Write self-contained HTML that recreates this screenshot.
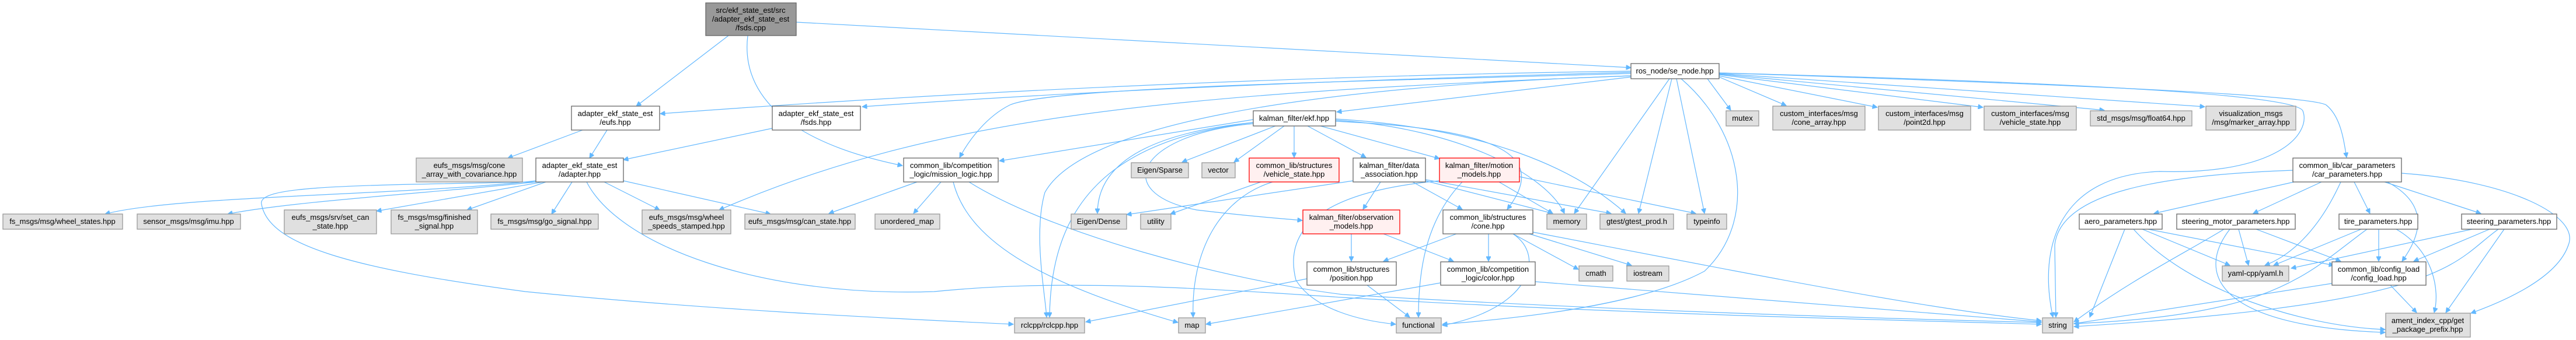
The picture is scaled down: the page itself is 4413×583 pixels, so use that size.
<!DOCTYPE html>
<html><head><meta charset="utf-8"><style>
html,body{margin:0;padding:0;background:#fff;}
svg{display:block;}
text{font-family:"Liberation Sans",Arial,sans-serif;font-size:13px;fill:#000;text-anchor:middle;}
.g{fill:#e0e0e0;stroke:#999;stroke-width:1.3;}
.w{fill:#fff;stroke:#666;stroke-width:1.3;}
.r{fill:#fff0f0;stroke:#f00;stroke-width:1.3;}
.k{fill:#999;stroke:#666;stroke-width:1.3;}
path{fill:none;stroke:#63b8ff;stroke-width:1.2;}
</style></head><body>
<svg width="4413" height="583" viewBox="0 0 4413 583" xmlns="http://www.w3.org/2000/svg">
<defs><marker id="a" viewBox="0 0 10 10" refX="10" refY="5" markerWidth="10" markerHeight="8" markerUnits="userSpaceOnUse" orient="auto"><path d="M0,0 L10,5 L0,10 z" style="fill:#63b8ff;stroke:#63b8ff"/></marker></defs>
<g marker-end="url(#a)">
<path d="M1248,61 L1090,182"/>
<path d="M1281,61 C1270,150 1330,240 1546,284"/>
<path d="M1364,38 L2794,116"/>
<path d="M998,223 L870,271"/>
<path d="M1040,223 L1010,271"/>
<path d="M1323,220 L1068,274"/>
<path d="M918,310 C700,335 300,335 180,367"/>
<path d="M918,312 C750,330 500,345 390,367"/>
<path d="M930,312 L645,362"/>
<path d="M935,312 L800,360"/>
<path d="M980,312 L945,367"/>
<path d="M1035,312 L1130,360"/>
<path d="M1068,310 L1320,367"/>
<path d="M918,312 C600,318 440,318 448,350 C460,420 600,460 900,500 C1200,530 1500,545 1736,556"/>
<path d="M1005,312 C1060,420 1300,510 1600,500 C1800,480 2000,490 2300,510 C2800,540 3300,550 3497,556"/>
<path d="M2794,122 C2200,130 1600,160 1131,195"/>
<path d="M2794,124 C2200,140 1800,160 1477,183"/>
<path d="M2794,126 C2300,140 1800,150 1730,180 C1690,200 1660,240 1644,270"/>
<path d="M2794,130 C2000,160 1600,200 1232,360"/>
<path d="M2794,132 L2290,192"/>
<path d="M2794,130 C2200,150 1850,220 1790,330 C1770,400 1790,500 1793,544"/>
<path d="M2860,135 L2697,366"/>
<path d="M2864,135 L2807,366"/>
<path d="M2872,135 L2920,366"/>
<path d="M2880,135 C2990,230 3010,380 2920,465 C2800,530 2550,550 2471,556"/>
<path d="M2925,135 L2965,189"/>
<path d="M2945,132 L3060,181"/>
<path d="M2945,130 L3216,184"/>
<path d="M2945,128 L3397,184"/>
<path d="M2945,127 L3605,189"/>
<path d="M2945,126 L3777,183"/>
<path d="M2945,125 C3400,140 3950,160 3985,180 C4010,200 4015,240 4020,270"/>
<path d="M2945,125 C3500,140 3930,160 3945,190 C3960,230 3900,300 3700,294 C3530,300 3490,420 3517,544"/>
<path d="M3928,292 C3700,300 3530,330 3520,420 L3522,544"/>
<path d="M3930,312 L3690,366"/>
<path d="M3977,312 L3860,366"/>
<path d="M4033,312 L4060,366"/>
<path d="M4085,312 L4250,366"/>
<path d="M4010,312 C3970,400 3920,440 3880,455"/>
<path d="M4090,312 C4160,350 4150,400 4115,448"/>
<path d="M4114,297 C4300,310 4420,370 4400,420 C4380,480 4280,520 4233,537"/>
<path d="M3640,393 L3580,544"/>
<path d="M3670,393 L3820,455"/>
<path d="M3680,393 L3998,455"/>
<path d="M3655,393 C3750,500 3950,560 4086,565"/>
<path d="M3810,393 C3750,430 3650,480 3553,552"/>
<path d="M3835,393 L3852,455"/>
<path d="M3865,393 L4010,448"/>
<path d="M3820,393 C3760,470 3800,560 4086,570"/>
<path d="M4045,393 L3895,455"/>
<path d="M4075,393 L4075,448"/>
<path d="M4105,393 C4170,430 4180,500 4170,536"/>
<path d="M4055,393 C3950,470 3900,540 3553,555"/>
<path d="M4235,393 L3925,460"/>
<path d="M4265,393 L4135,448"/>
<path d="M4290,393 L4190,536"/>
<path d="M4280,393 C4200,450 4200,520 3553,560"/>
<path d="M4095,489 L4140,536"/>
<path d="M3995,486 L3553,555"/>
<path d="M2147,205 L1712,276"/>
<path d="M2185,216 L2025,278"/>
<path d="M2200,216 L2114,278"/>
<path d="M2217,216 L2217,270"/>
<path d="M2240,216 L2340,270"/>
<path d="M2262,216 L2466,272"/>
<path d="M2147,212 C1950,230 1900,330 2050,360 C2150,372 2200,375 2231,378"/>
<path d="M2147,210 C1950,230 1880,290 1880,366"/>
<path d="M2147,210 C1900,240 1800,350 1798,544"/>
<path d="M2288,206 C2500,220 2650,300 2680,366"/>
<path d="M2288,204 C2550,220 2700,290 2785,366"/>
<path d="M2288,208 C2550,220 2660,260 2582,359"/>
<path d="M2466,310 C2250,330 2200,400 2220,480 C2250,530 2330,550 2391,556"/>
<path d="M2365,312 L2335,359"/>
<path d="M2420,312 L2505,359"/>
<path d="M2442,310 L2660,366"/>
<path d="M2442,308 L2760,366"/>
<path d="M2318,310 L1930,368"/>
<path d="M2568,312 L2660,366"/>
<path d="M2603,303 L2905,366"/>
<path d="M2505,312 C2440,380 2430,470 2430,544"/>
<path d="M2160,312 L2005,367"/>
<path d="M2180,312 C2090,340 2040,430 2044,544"/>
<path d="M1571,312 L1420,366"/>
<path d="M1612,312 L1565,366"/>
<path d="M1633,312 C1660,420 1800,490 2018,553"/>
<path d="M1660,312 C1800,400 2100,480 2300,505 C2800,535 3300,548 3497,553"/>
<path d="M2315,401 L2315,448"/>
<path d="M2370,401 L2490,448"/>
<path d="M2495,401 L2370,448"/>
<path d="M2550,401 L2550,448"/>
<path d="M2592,401 L2704,462"/>
<path d="M2620,401 L2795,455"/>
<path d="M2592,401 C2650,440 2620,530 2471,558"/>
<path d="M2626,398 C3000,470 3300,530 3497,550"/>
<path d="M2342,489 L2415,544"/>
<path d="M2239,478 L1860,552"/>
<path d="M2630,483 L3497,552"/>
<path d="M2468,485 L2066,556"/>
</g>
<rect class="k" x="1209" y="5" width="155" height="56"/><text x="1286" y="22">src/ekf_state_est/src</text><text x="1286" y="37">/adapter_ekf_state_est</text><text x="1286" y="52">/fsds.cpp</text>
<rect class="w" x="979" y="182" width="151" height="41"/><text x="1054" y="199">adapter_ekf_state_est</text><text x="1054" y="214">/eufs.hpp</text>
<rect class="w" x="1323" y="182" width="151" height="41"/><text x="1398" y="199">adapter_ekf_state_est</text><text x="1398" y="214">/fsds.hpp</text>
<rect class="w" x="918" y="271" width="150" height="41"/><text x="993" y="288">adapter_ekf_state_est</text><text x="993" y="303">/adapter.hpp</text>
<rect class="g" x="713" y="271" width="182" height="41"/><text x="804" y="288">eufs_msgs/msg/cone</text><text x="804" y="303">_array_with_covariance.hpp</text>
<rect class="g" x="5" y="367" width="205" height="26"/><text x="107" y="384">fs_msgs/msg/wheel_states.hpp</text>
<rect class="g" x="235" y="367" width="177" height="26"/><text x="323" y="384">sensor_msgs/msg/imu.hpp</text>
<rect class="g" x="487" y="360" width="158" height="41"/><text x="566" y="377">eufs_msgs/srv/set_can</text><text x="566" y="392">_state.hpp</text>
<rect class="g" x="670" y="360" width="148" height="41"/><text x="744" y="377">fs_msgs/msg/finished</text><text x="744" y="392">_signal.hpp</text>
<rect class="g" x="841" y="367" width="184" height="26"/><text x="933" y="384">fs_msgs/msg/go_signal.hpp</text>
<rect class="g" x="1100" y="360" width="152" height="41"/><text x="1176" y="377">eufs_msgs/msg/wheel</text><text x="1176" y="392">_speeds_stamped.hpp</text>
<rect class="g" x="1276" y="367" width="189" height="26"/><text x="1370" y="384">eufs_msgs/msg/can_state.hpp</text>
<rect class="w" x="1548" y="271" width="162" height="41"/><text x="1629" y="288">common_lib/competition</text><text x="1629" y="303">_logic/mission_logic.hpp</text>
<rect class="g" x="1499" y="367" width="111" height="26"/><text x="1554" y="384">unordered_map</text>
<rect class="g" x="1738" y="545" width="120" height="26"/><text x="1798" y="562">rclcpp/rclcpp.hpp</text>
<rect class="g" x="2019" y="545" width="46" height="26"/><text x="2042" y="562">map</text>
<rect class="g" x="1835" y="367" width="95" height="26"/><text x="1882" y="384">Eigen/Dense</text>
<rect class="g" x="1954" y="367" width="52" height="26"/><text x="1980" y="384">utility</text>
<rect class="g" x="1938" y="279" width="98" height="26"/><text x="1987" y="296">Eigen/Sparse</text>
<rect class="g" x="2059" y="279" width="57" height="26"/><text x="2087" y="296">vector</text>
<rect class="r" x="2140" y="271" width="154" height="41"/><text x="2217" y="288">common_lib/structures</text><text x="2217" y="303">/vehicle_state.hpp</text>
<rect class="w" x="2147" y="190" width="141" height="26"/><text x="2217" y="207">kalman_filter/ekf.hpp</text>
<rect class="w" x="2318" y="271" width="124" height="41"/><text x="2380" y="288">kalman_filter/data</text><text x="2380" y="303">_association.hpp</text>
<rect class="r" x="2466" y="271" width="137" height="41"/><text x="2534" y="288">kalman_filter/motion</text><text x="2534" y="303">_models.hpp</text>
<rect class="r" x="2232" y="360" width="166" height="41"/><text x="2315" y="377">kalman_filter/observation</text><text x="2315" y="392">_models.hpp</text>
<rect class="w" x="2472" y="360" width="154" height="41"/><text x="2549" y="377">common_lib/structures</text><text x="2549" y="392">/cone.hpp</text>
<rect class="g" x="2650" y="367" width="68" height="26"/><text x="2684" y="384">memory</text>
<rect class="g" x="2741" y="367" width="126" height="26"/><text x="2804" y="384">gtest/gtest_prod.h</text>
<rect class="g" x="2890" y="367" width="68" height="26"/><text x="2924" y="384">typeinfo</text>
<rect class="w" x="2239" y="449" width="153" height="40"/><text x="2315" y="466">common_lib/structures</text><text x="2315" y="481">/position.hpp</text>
<rect class="w" x="2468" y="449" width="162" height="40"/><text x="2549" y="466">common_lib/competition</text><text x="2549" y="481">_logic/color.hpp</text>
<rect class="g" x="2705" y="456" width="58" height="26"/><text x="2734" y="473">cmath</text>
<rect class="g" x="2787" y="456" width="72" height="26"/><text x="2823" y="473">iostream</text>
<rect class="g" x="2392" y="545" width="77" height="26"/><text x="2430" y="562">functional</text>
<rect class="w" x="2794" y="109" width="151" height="26"/><text x="2869" y="126">ros_node/se_node.hpp</text>
<rect class="g" x="2957" y="190" width="56" height="26"/><text x="2985" y="207">mutex</text>
<rect class="g" x="3037" y="182" width="158" height="41"/><text x="3116" y="199">custom_interfaces/msg</text><text x="3116" y="214">/cone_array.hpp</text>
<rect class="g" x="3218" y="182" width="158" height="41"/><text x="3297" y="199">custom_interfaces/msg</text><text x="3297" y="214">/point2d.hpp</text>
<rect class="g" x="3399" y="182" width="158" height="41"/><text x="3478" y="199">custom_interfaces/msg</text><text x="3478" y="214">/vehicle_state.hpp</text>
<rect class="g" x="3581" y="190" width="174" height="26"/><text x="3668" y="207">std_msgs/msg/float64.hpp</text>
<rect class="g" x="3779" y="182" width="154" height="41"/><text x="3856" y="199">visualization_msgs</text><text x="3856" y="214">/msg/marker_array.hpp</text>
<rect class="w" x="3928" y="271" width="186" height="41"/><text x="4021" y="288">common_lib/car_parameters</text><text x="4021" y="303">/car_parameters.hpp</text>
<rect class="w" x="3562" y="367" width="142" height="26"/><text x="3633" y="384">aero_parameters.hpp</text>
<rect class="w" x="3729" y="367" width="203" height="26"/><text x="3830" y="384">steering_motor_parameters.hpp</text>
<rect class="w" x="4007" y="367" width="135" height="26"/><text x="4074" y="384">tire_parameters.hpp</text>
<rect class="w" x="4217" y="367" width="163" height="26"/><text x="4298" y="384">steering_parameters.hpp</text>
<rect class="g" x="3807" y="456" width="114" height="26"/><text x="3864" y="473">yaml-cpp/yaml.h</text>
<rect class="w" x="3995" y="449" width="161" height="40"/><text x="4075" y="466">common_lib/config_load</text><text x="4075" y="481">/config_load.hpp</text>
<rect class="g" x="4087" y="537" width="145" height="41"/><text x="4159" y="554">ament_index_cpp/get</text><text x="4159" y="569">_package_prefix.hpp</text>
<rect class="g" x="3499" y="545" width="52" height="26"/><text x="3525" y="562">string</text>
</svg>
</body></html>
